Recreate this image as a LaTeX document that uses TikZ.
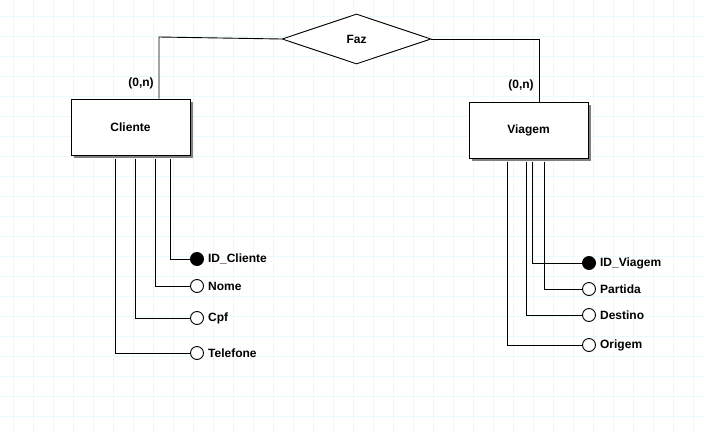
\documentclass[tikz,border=0pt]{standalone}
\usepackage{fontspec}
\setmainfont{Liberation Sans}
\usetikzlibrary{shapes.geometric,shadows}
\begin{document}
\begin{tikzpicture}[x=1pt,y=-1pt,font=\fontsize{12}{14}\selectfont\bfseries,
		gridline/.style={draw=blue!30!cyan!8,line width=1pt},
		ent/.style={draw,line width=1pt,fill=white,rectangle,minimum width=119pt,
					minimum height=56pt,inner sep=0pt,
					drop shadow={shadow xshift=2.5pt,shadow yshift=-2.5pt,fill=black!50,opacity=1}},
		rel/.style={draw,line width=0.9pt,fill=white,diamond,aspect=3,minimum width=149pt,
					minimum height=50pt,inner sep=0pt},
		attr/.style={draw,line width=0.9pt,fill=white,circle,minimum size=13pt,inner sep=0pt},
		key/.style={attr,fill=black},
		lbl/.style={anchor=west,inner sep=0pt,xshift=4pt},
		conn/.style={draw,line width=0.9pt}]
	\useasboundingbox (0,0) rectangle (704,434);
	\fill[white] (0,0) rectangle (704,434);
	\foreach \gx in {13,33,...,693} \draw[gridline] (\gx,0) -- (\gx,434);
	\foreach \gy in {16,36,...,416} \draw[gridline] (0,\gy) -- (704,\gy);
	% entidades e relacionamento
	\node[rel] (faz) at (356.5,39) {Faz};
	\node[ent] (cliente) at (130.5,127) {Cliente};
	\node[ent] (viagem) at (528.5,130) {Viagem};
	\coordinate (cfaz) at (159,37);
	\coordinate (vfaz) at (539,39);
	\draw[conn] (faz.west) -- (cfaz) -- (cfaz |- cliente.north);
	\draw[conn] (faz.east) -- (vfaz) -- (vfaz |- viagem.north);
	\node (cardc) at (141,83) {(0,n)};
	\node (cardv) at (521,85) {(0,n)};
	% atributos de Cliente
	\node[key] (idc) at (197,259) {};
	\node[attr] (nome) at (197,286) {};
	\node[attr] (cpf) at (197,318) {};
	\node[attr] (tel) at (197,353) {};
	\node[lbl] at (idc.east) {ID\_Cliente};
	\node[lbl] at (nome.east) {Nome};
	\node[lbl] at (cpf.east) {Cpf};
	\node[lbl] at (tel.east) {Telefone};
	\foreach \dx/\a in {39.5/idc,24.5/nome,5/cpf,-15/tel}
		\draw[conn] ([xshift=\dx pt,yshift=-3.5pt]cliente.south) |- (\a.west);
	% atributos de Viagem
	\node[key] (idv) at (589,263) {};
	\node[attr] (partida) at (589,289) {};
	\node[attr] (destino) at (589,315) {};
	\node[attr] (origem) at (589,345) {};
	\node[lbl] at (idv.east) {ID\_Viagem};
	\node[lbl] at (partida.east) {Partida};
	\node[lbl] at (destino.east) {Destino};
	\node[lbl] at (origem.east) {Origem};
	\foreach \dx/\a in {4/idv,16/partida,-2.5/destino,-21.5/origem}
		\draw[conn] ([xshift=\dx pt,yshift=-3pt]viagem.south) |- (\a.west);
\end{tikzpicture}
\end{document}
